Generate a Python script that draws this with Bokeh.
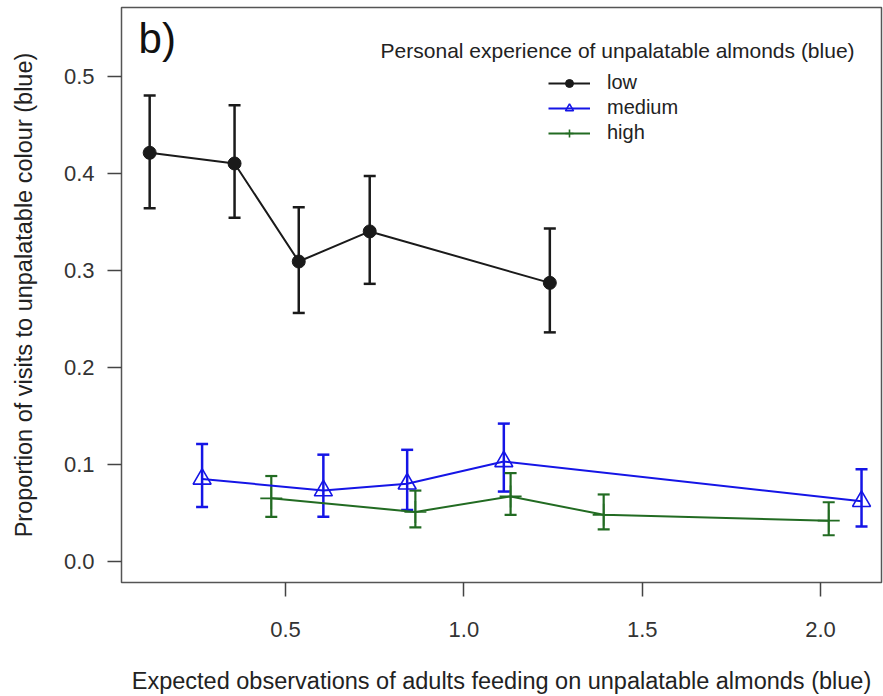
from bokeh.plotting import figure
from bokeh.models import (ColumnDataSource, Whisker, TeeHead, Range1d, FixedTicker,
                          NumeralTickFormatter, Legend, LegendItem, Label)
from bokeh.embed import file_html
from bokeh.resources import INLINE

# ---- data ----
low_x = [0.119, 0.357, 0.537, 0.736, 1.241]
low_y = [0.421, 0.410, 0.309, 0.340, 0.287]
low_upper = [0.480, 0.470, 0.365, 0.397, 0.343]
low_lower = [0.364, 0.354, 0.256, 0.286, 0.236]

med_x = [0.266, 0.606, 0.841, 1.112, 2.115]
med_y = [0.085, 0.073, 0.080, 0.103, 0.062]
med_upper = [0.121, 0.110, 0.115, 0.142, 0.095]
med_lower = [0.056, 0.046, 0.053, 0.072, 0.036]

high_x = [0.460, 0.864, 1.131, 1.392, 2.023]
high_y = [0.065, 0.051, 0.067, 0.048, 0.042]
high_upper = [0.088, 0.073, 0.091, 0.069, 0.061]
high_lower = [0.046, 0.035, 0.048, 0.033, 0.027]

x_ticks = [0.5, 1.0, 1.5, 2.0]
y_ticks = [0.0, 0.1, 0.2, 0.3, 0.4, 0.5]
series_names = ["low", "medium", "high"]
legend_title = "Personal experience of unpalatable almonds (blue)"
x_title = "Expected observations of adults feeding on unpalatable almonds (blue)"
y_title = "Proportion of visits to unpalatable colour (blue)"
panel_tag = "b)"

FONT = "Liberation Sans"
BLUE = "#1515e6"
GREEN = "#226b22"

p = figure(width=883, height=696, output_backend="svg", toolbar_location=None,
           x_range=Range1d(0.040, 2.171), y_range=Range1d(-0.0217, 0.5707),
           min_border_left=121, min_border_right=2, min_border_top=7, min_border_bottom=114)
p.background_fill_color = "white"
p.border_fill_color = "white"
p.grid.visible = False
p.outline_line_color = "#555555"
p.outline_line_width = 1.5

for ax in (p.xaxis[0], p.yaxis[0]):
    ax.axis_line_color = None
    ax.major_tick_out = 14
    ax.major_tick_in = 0
    ax.major_tick_line_color = "#444444"
    ax.major_tick_line_width = 1.5
    ax.minor_tick_line_color = None
    ax.major_label_text_font = FONT
    ax.major_label_text_font_size = "22px"
    ax.major_label_text_color = "#333333"
    ax.axis_label_text_font = FONT
    ax.axis_label_text_font_size = "23.5px"
    ax.axis_label_text_font_style = "normal"
    ax.axis_label_text_color = "#222222"
    ax.formatter = NumeralTickFormatter(format="0.0")

p.xaxis.ticker = FixedTicker(ticks=x_ticks)
p.yaxis.ticker = FixedTicker(ticks=y_ticks)
p.xaxis.axis_label = x_title
p.yaxis.axis_label = y_title
p.xaxis.major_label_standoff = 25
p.xaxis.axis_label_standoff = 28
p.yaxis.major_label_standoff = 13
p.yaxis.axis_label_standoff = 24

def add_series(xs, ys, up, lo, color, marker, msize, lw_bar):
    src = ColumnDataSource(dict(x=xs, y=ys, upper=up, lower=lo))
    w = Whisker(source=src, base="x", upper="upper", lower="lower", dimension="height",
                line_color=color, line_width=lw_bar,
                upper_head=TeeHead(size=12, line_color=color, line_width=lw_bar),
                lower_head=TeeHead(size=12, line_color=color, line_width=lw_bar))
    p.add_layout(w)
    ln = p.line("x", "y", source=src, line_color=color, line_width=2)
    if marker == "circle":
        mk = p.scatter("x", "y", source=src, marker="circle", size=msize,
                       fill_color=color, line_color=color)
    elif marker == "triangle":
        mk = p.scatter("x", "y", source=src, marker="triangle", size=msize,
                       fill_color=None, line_color=color, line_width=1.6)
    else:
        mk = p.scatter("x", "y", source=src, marker="cross", size=msize,
                       line_color=color, line_width=1.6)
    return [ln, mk]

r_low = add_series(low_x, low_y, low_upper, low_lower, "#1a1a1a", "circle", 13, 2.5)
r_med = add_series(med_x, med_y, med_upper, med_lower, BLUE, "triangle", 18, 2.5)
r_high = add_series(high_x, high_y, high_upper, high_lower, GREEN, "cross", 22, 2.2)

legend = Legend(items=[LegendItem(label=series_names[0], renderers=r_low),
                       LegendItem(label=series_names[1], renderers=r_med),
                       LegendItem(label=series_names[2], renderers=r_high)],
                location=(427, 438), orientation="vertical",
                glyph_width=42, glyph_height=20, label_height=20, spacing=2,
                label_standoff=17, padding=0, margin=0,
                label_text_font=FONT, label_text_font_size="20px",
                label_text_color="#222222",
                border_line_color=None, background_fill_alpha=0)
p.add_layout(legend, "center")

p.add_layout(Label(x=1.431, y=0.526, text=legend_title, text_align="center",
                   text_baseline="middle", text_font=FONT, text_font_size="21px",
                   text_color="#222222"))
p.add_layout(Label(x=0.088, y=0.539, text=panel_tag, text_align="left",
                   text_baseline="middle", text_font=FONT, text_font_size="42px",
                   text_color="#111111"))

open("out.html", "w").write(file_html(p, INLINE))
